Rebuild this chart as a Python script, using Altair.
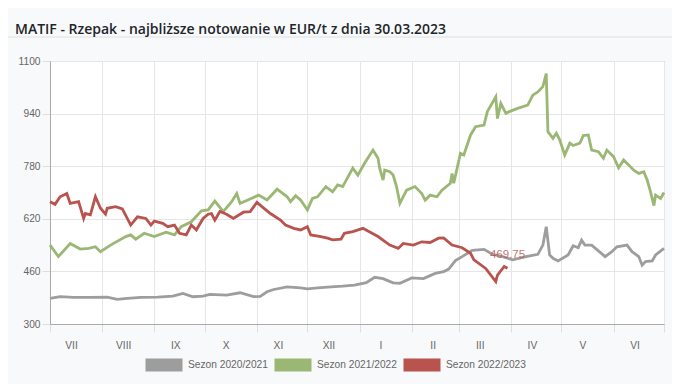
import altair as alt
import pandas as pd

TITLE = "MATIF - Rzepak - najbliższe notowanie w EUR/t z dnia 30.03.2023"
MONTHS = ["VII", "VIII", "IX", "X", "XI", "XII", "I", "II", "III", "IV", "V", "VI"]
MONTH_START = [0, 31, 62, 92, 123, 153, 184, 215, 243, 274, 304, 335, 365]
Y_TICKS = [300, 460, 620, 780, 940, 1100]
SERIES = ["Sezon 2020/2021", "Sezon 2021/2022", "Sezon 2022/2023"]
COLORS = ["#9d9d9d", "#9bb774", "#b9534e"]

# Sezon 2020/2021 (day of season since 1 July, EUR/t)
G_DAY = [0, 6, 14, 24, 34, 40, 46, 54, 64, 73, 79, 85, 91, 95, 105, 113, 121, 125, 129, 133,
         141, 149, 153, 159, 167, 174, 181, 188, 193, 198, 204, 208, 215, 222, 229, 234, 237, 241, 245, 251,
         258, 263, 269, 272, 275, 283, 290, 293, 295, 297, 299, 302, 308, 311, 314, 316, 318, 322, 330, 334,
         337, 343, 346, 350, 352, 354, 358, 360, 365]
G_VAL = [378, 383, 381, 381, 382, 375, 378, 381, 382, 385, 393, 383, 385, 390, 388, 395, 383, 384, 398, 405,
         413, 410, 407, 410, 413, 415, 418, 426, 442, 438, 425, 424, 440, 438, 454, 459, 467, 493, 505, 524,
         527, 512, 505, 500, 495, 505, 512, 540, 596, 510, 500, 492, 510, 538, 532, 555, 540, 540, 505, 520,
         535, 540, 520, 505, 479, 490, 492, 510, 530]

# Sezon 2021/2022
N_DAY = [0, 5, 12, 18, 23, 27, 30, 36, 45, 48, 51, 56, 62, 69, 74, 78, 84, 90, 94, 98,
         103, 108, 111, 113, 119, 124, 129, 135, 141, 143, 146, 149, 153, 156, 159, 164, 168, 171, 174, 180,
         183, 187, 192, 195, 196, 198, 199, 202, 204, 206, 208, 212, 217, 221, 223, 226, 230, 233, 238, 239,
         240, 244, 246, 250, 253, 258, 260, 265, 266, 268, 271, 273, 278, 284, 287, 290, 293, 295, 296, 299,
         301, 303, 306, 309, 311, 315, 317, 320, 322, 326, 329, 331, 335, 338, 341, 344, 347, 350, 353, 355,
         357, 359, 360, 363, 365]
N_VAL = [540, 505, 545, 528, 530, 535, 520, 540, 566, 571, 558, 576, 566, 579, 571, 596, 611, 644, 647, 674,
         642, 672, 697, 667, 680, 692, 677, 710, 687, 672, 690, 677, 647, 682, 687, 718, 702, 723, 718, 774,
         753, 789, 829, 804, 773, 738, 768, 763, 753, 718, 667, 707, 718, 697, 677, 692, 687, 707, 728, 758,
         728, 819, 814, 875, 900, 905, 946, 991, 925, 971, 941, 946, 956, 966, 996, 1006, 1022, 1062, 885, 865,
         880, 860, 814, 850, 843, 850, 873, 875, 829, 824, 804, 829, 809, 775, 799, 784, 768, 758, 763, 738,
         702, 660, 692, 682, 700]

# Sezon 2022/2023
R_DAY = [0, 3, 6, 10, 12, 17, 20, 21, 24, 27, 30, 33, 34, 39, 43, 48, 52, 57, 60, 62,
         67, 70, 74, 77, 81, 84, 87, 91, 94, 96, 98, 101, 105, 109, 115, 119, 123, 126, 131, 137,
         140, 145, 149, 153, 155, 161, 165, 168, 173, 175, 180, 186, 195, 202, 207, 210, 216, 221, 226, 231,
         234, 239, 245, 250, 252, 259, 265, 266, 270, 272]
R_VAL = [672, 664, 687, 697, 667, 672, 621, 636, 632, 687, 652, 634, 652, 657, 650, 601, 626, 621, 601, 613,
         606, 596, 601, 576, 571, 601, 586, 621, 634, 636, 616, 642, 634, 621, 640, 642, 670, 657, 636, 616,
         601, 591, 586, 596, 571, 566, 561, 556, 558, 576, 581, 591, 566, 540, 530, 545, 540, 550, 548, 561,
         562, 540, 532, 515, 495, 469, 429, 449, 475, 469.75]
LAST_LABEL = "469.75"

rows = []
for name, days, vals in zip(SERIES, [G_DAY, N_DAY, R_DAY], [G_VAL, N_VAL, R_VAL]):
    for d, v in zip(days, vals):
        rows.append({"sezon": name, "day": d, "value": v})
df = pd.DataFrame(rows)
last = pd.DataFrame({"day": [R_DAY[-1]], "value": [R_VAL[-1]], "label": [LAST_LABEL]})

label_expr = ("[" + ",".join(f"'{m}'" for m in MONTHS + [""]) + "][indexof(["
              + ",".join(str(v) for v in MONTH_START) + "], datum.value)]")

FONT = "Liberation Sans, Arial, Helvetica, sans-serif"
GRID = "#e6e6e6"
AXIS_LINE = "#aaaaaa"

x = alt.X("day:Q", scale=alt.Scale(domain=[0, 365], nice=False, zero=False),
          axis=alt.Axis(values=MONTH_START, labelExpr=label_expr, title=None, grid=True,
                        gridColor=GRID, tickColor="#dedede", tickSize=8, labelOffset=21,
                        labelPadding=8, labelFlush=False, labelOverlap=False, labelFontSize=10.2,
                        labelColor="#666666", labelFont=FONT, domainColor=AXIS_LINE))
y = alt.Y("value:Q", scale=alt.Scale(domain=[300, 1100], nice=False, zero=False),
          axis=alt.Axis(values=Y_TICKS, format="d", title=None, grid=True, gridColor=GRID,
                        tickColor="#dedede", tickSize=8, labelPadding=2, labelFlush=False,
                        labelFontSize=10.2, labelColor="#666666", labelFont=FONT,
                        domainColor=AXIS_LINE))

color = alt.Color("sezon:N", scale=alt.Scale(domain=SERIES, range=COLORS),
                  legend=alt.Legend(title=None, orient="none", legendX=89, legendY=279,
                                    direction="horizontal", symbolType="stroke", symbolSize=1369,
                                    symbolStrokeWidth=13, labelOffset={"expr": "-1"},
                                    columnPadding={"expr": "-23"},
                                    labelFontSize=10.2, labelColor="#666666", labelFont=FONT,
                                    padding=0))

lines = alt.Chart(df).mark_line(strokeWidth=2.8).encode(x=x, y=y, color=color)

label = alt.Chart(last).mark_text(dy=-13, fontSize=11.5, font=FONT, color="#b9534e", opacity=0.8,
                                  baseline="middle", align="center").encode(
    x=x, y=y, text="label:N")

sep = alt.Chart(pd.DataFrame({"k": [0]})).mark_rule(color="#e0e0e0", strokeWidth=1).encode(
    x=alt.value(-42), x2=alt.value(622), y=alt.value(-24))

chart = alt.layer(sep, lines, label).properties(
    width=614, height=263,
    title=alt.TitleParams(TITLE, anchor="start", frame="group", font="Open Sans", fontSize=14,
                          fontWeight=600, color="#212529", dx=-35, offset=0),
    autosize=alt.AutoSizeParams(type="none"),
    padding={"left": 42, "top": 53, "right": 8, "bottom": 60},
    background="#f8f9fa",
).configure_view(stroke=AXIS_LINE, fill="white")

chart.save("out.html", embed_options={"renderer": "svg", "actions": False})
